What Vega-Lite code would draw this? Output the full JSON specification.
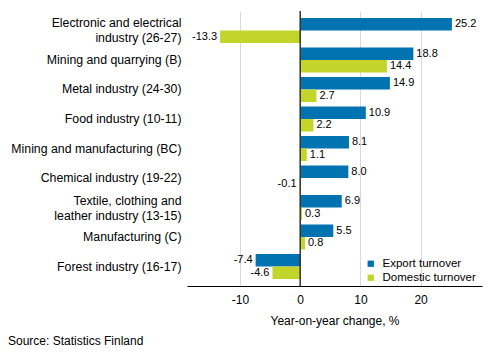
{
  "$schema": "https://vega.github.io/schema/vega-lite/v6.json",
  "width": 295,
  "height": 275,
  "autosize": {"type": "none"},
  "padding": {"left": 187, "top": 11, "right": 11, "bottom": 74},
  "background": "white",
  "config": {
    "font": "Liberation Sans",
    "view": {"stroke": null},
    "locale": {"number": {"decimal": ".", "thousands": ",", "grouping": [3], "currency": ["$", ""], "minus": "-"}},
    "axis": {"labelFont": "Liberation Sans", "titleFont": "Liberation Sans"}
  },
  "title": {
    "text": "Source: Statistics Finland",
    "orient": "bottom",
    "anchor": "start",
    "frame": "group",
    "dx": -179,
    "offset": 10,
    "fontSize": 12,
    "fontWeight": "normal",
    "font": "Liberation Sans",
    "color": "#000000"
  },
  "data": {
    "values": [
      {"category": "Electronic and electrical industry (26-27)", "type": "Export turnover", "value": 25.2},
      {"category": "Electronic and electrical industry (26-27)", "type": "Domestic turnover", "value": -13.3},
      {"category": "Mining and quarrying (B)", "type": "Export turnover", "value": 18.8},
      {"category": "Mining and quarrying (B)", "type": "Domestic turnover", "value": 14.4},
      {"category": "Metal industry (24-30)", "type": "Export turnover", "value": 14.9},
      {"category": "Metal industry (24-30)", "type": "Domestic turnover", "value": 2.7},
      {"category": "Food industry (10-11)", "type": "Export turnover", "value": 10.9},
      {"category": "Food industry (10-11)", "type": "Domestic turnover", "value": 2.2},
      {"category": "Mining and manufacturing (BC)", "type": "Export turnover", "value": 8.1},
      {"category": "Mining and manufacturing (BC)", "type": "Domestic turnover", "value": 1.1},
      {"category": "Chemical industry (19-22)", "type": "Export turnover", "value": 8.0},
      {"category": "Chemical industry (19-22)", "type": "Domestic turnover", "value": -0.1},
      {"category": "Textile, clothing and leather industry (13-15)", "type": "Export turnover", "value": 6.9},
      {"category": "Textile, clothing and leather industry (13-15)", "type": "Domestic turnover", "value": 0.3},
      {"category": "Manufacturing (C)", "type": "Export turnover", "value": 5.5},
      {"category": "Manufacturing (C)", "type": "Domestic turnover", "value": 0.8},
      {"category": "Forest industry (16-17)", "type": "Export turnover", "value": -7.4},
      {"category": "Forest industry (16-17)", "type": "Domestic turnover", "value": -4.6}
    ]
  },
  "encoding": {
    "y": {
      "field": "category",
      "type": "nominal",
      "sort": null,
      "scale": {"paddingInner": 0.153, "paddingOuter": 0.237},
      "axis": {
        "title": null,
        "domain": false,
        "ticks": false,
        "grid": false,
        "labelPadding": 6,
        "labelFontSize": 12.3,
        "labelColor": "#000000",
        "labelLimit": 300,
        "labelLineHeight": 15,
        "labelOffset": {"condition": {"test": "indexof(datum.value, 'Electronic') >= 0 || indexof(datum.value, 'Textile') >= 0", "value": -7}, "value": 0},
        "labelExpr": "datum.value == 'Electronic and electrical industry (26-27)' ? ['Electronic and electrical', 'industry (26-27)'] : datum.value == 'Textile, clothing and leather industry (13-15)' ? ['Textile, clothing and', 'leather industry (13-15)'] : datum.value"
      }
    },
    "yOffset": {
      "field": "type",
      "type": "nominal",
      "sort": ["Export turnover", "Domestic turnover"],
      "scale": {"paddingInner": 0, "paddingOuter": 0}
    },
    "x": {
      "field": "value",
      "type": "quantitative",
      "scale": {"domain": [-18.8, 30.2], "nice": false, "zero": false},
      "axis": {
        "values": [-10, 0, 10, 20],
        "title": "Year-on-year change, %",
        "titleFontSize": 12,
        "titleFontWeight": "normal",
        "titleColor": "#000000",
        "titlePadding": 10,
        "labelFontSize": 12,
        "labelColor": "#000000",
        "labelPadding": 8,
        "ticks": false,
        "domainColor": "#000000",
        "domainWidth": 1,
        "gridColor": "#d9d9d9",
        "gridWidth": 1
      }
    }
  },
  "layer": [
    {
      "mark": {"type": "bar"},
      "encoding": {
        "color": {
          "field": "type",
          "type": "nominal",
          "sort": ["Export turnover", "Domestic turnover"],
          "scale": {"domain": ["Export turnover", "Domestic turnover"], "range": ["#0073b0", "#c3d52b"]},
          "legend": {
            "title": null,
            "orient": "none",
            "legendX": 178,
            "legendY": 247,
            "symbolType": "square",
            "symbolSize": 40,
            "symbolStrokeWidth": 0,
            "labelFontSize": 11.5,
            "labelColor": "#000000",
            "labelFont": "Liberation Sans",
            "rowPadding": 1,
            "labelOffset": 6
          }
        }
      }
    },
    {
      "mark": {"type": "rule", "color": "#333333", "strokeWidth": 1.5},
      "data": {"values": [{"zero": 0}]},
      "encoding": {
        "x": {"field": "zero", "type": "quantitative"},
        "y": null,
        "yOffset": null
      }
    },
    {
      "transform": [{"filter": "datum.value >= 0"}],
      "mark": {"type": "text", "align": "left", "baseline": "middle", "dx": 3, "fontSize": 11, "color": "#000000", "font": "Liberation Sans"},
      "encoding": {"text": {"field": "value", "type": "quantitative", "format": ".1f"}}
    },
    {
      "transform": [{"filter": "datum.value < 0"}],
      "mark": {"type": "text", "align": "right", "baseline": "middle", "dx": -3, "fontSize": 11, "color": "#000000", "font": "Liberation Sans"},
      "encoding": {"text": {"field": "value", "type": "quantitative", "format": ".1f"}}
    }
  ]
}
